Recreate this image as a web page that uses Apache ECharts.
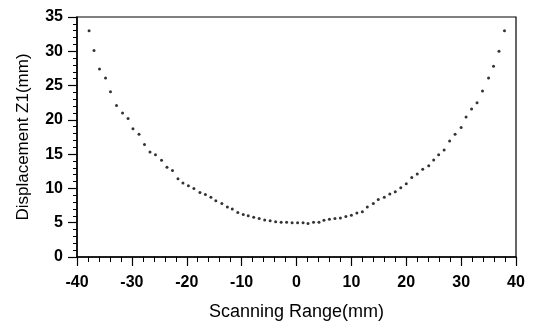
<!DOCTYPE html>
<html>
<head>
<meta charset="utf-8">
<script src="https://cdn.jsdelivr.net/npm/echarts@6/dist/echarts.min.js"></script>
<style>
  html, body { margin: 0; padding: 0; background: #fff; }
  #chart { width: 538px; height: 328px; }
</style>
</head>
<body>
<div id="chart"></div>
<script>
// scanning position (mm)
const scanX = [
  -37.8, -36.9, -35.9, -34.8, -33.9, -32.8, -31.7, -30.7, -29.8, -28.7,
  -27.7, -26.7, -25.7, -24.6, -23.6, -22.6, -21.6, -20.7, -19.7, -18.7,
  -17.6, -16.6, -15.6, -14.7, -13.6, -12.6, -11.7, -10.7, -9.7, -8.8,
  -7.8, -6.8, -5.8, -4.8, -3.8, -2.8, -1.8, -0.8, 0.2, 1.2,
  2.1, 3.1, 4.1, 5.0, 6.0, 7.0, 8.0, 9.0, 10.0, 11.0,
  12.0, 12.9, 14.0, 14.9, 16.0, 17.0, 18.0, 19.0, 20.0, 21.0,
  22.0, 23.0, 24.1, 25.0, 25.9, 26.9, 27.9, 28.9, 30.0, 30.9,
  31.9, 32.9, 33.9, 35.0, 35.9, 36.9, 37.9
];
// displacement Z1 (mm)
const dispZ1 = [
  33.0, 30.1, 27.4, 26.1, 24.1, 22.1, 21.0, 20.2, 18.7, 17.9,
  16.4, 15.3, 14.9, 14.1, 13.1, 12.6, 11.4, 10.8, 10.4, 10.0,
  9.4, 9.1, 8.7, 8.2, 7.8, 7.3, 7.0, 6.5, 6.2, 6.0,
  5.8, 5.6, 5.4, 5.3, 5.15, 5.05, 5.05, 5.0, 5.0, 5.0,
  4.9, 5.05, 5.05, 5.35, 5.5, 5.6, 5.7, 5.9, 6.1, 6.4,
  6.6, 7.3, 7.8, 8.4, 8.7, 9.2, 9.5, 10.1, 10.7, 11.6,
  12.1, 12.8, 13.3, 14.15, 14.9, 15.6, 16.9, 17.9, 18.9, 20.4,
  21.6, 22.5, 24.2, 26.1, 27.8, 30.0, 33.0
];

const points = scanX.map((x, i) => [x, dispZ1[i]]);

const font = 'Liberation Sans, Arial, sans-serif';

const option = {
  animation: false,
  backgroundColor: '#fff',
  grid: {
    left: 77,
    right: 22,
    top: 17,
    bottom: 71,
    show: true,
    borderColor: '#000',
    borderWidth: 1.2
  },
  xAxis: {
    type: 'value',
    min: -40,
    max: 40,
    interval: 10,
    name: 'Scanning Range(mm)',
    nameLocation: 'middle',
    nameGap: 46,
    nameTextStyle: { color: '#000', fontSize: 18, fontFamily: font },
    axisLine: { onZero: false, lineStyle: { color: '#000', width: 1.5 } },
    axisTick: { inside: false, length: 9, lineStyle: { color: '#000', width: 1.2 } },
    minorTick: { show: true, splitNumber: 5, length: 5, lineStyle: { color: '#000', width: 1 } },
    axisLabel: { color: '#000', fontSize: 16, fontWeight: 'bold', fontFamily: font, margin: 18 },
    splitLine: { show: false }
  },
  yAxis: {
    type: 'value',
    min: 0,
    max: 35,
    interval: 5,
    name: 'Displacement Z1(mm)',
    nameLocation: 'middle',
    nameGap: 45,
    nameTextStyle: { color: '#000', fontSize: 17, fontFamily: font },
    axisLine: { show: true, onZero: false, lineStyle: { color: '#000', width: 1.5 } },
    axisTick: { show: true, inside: false, length: 9, lineStyle: { color: '#000', width: 1.2 } },
    minorTick: { show: true, splitNumber: 5, length: 4, lineStyle: { color: '#000', width: 1 } },
    axisLabel: { color: '#000', fontSize: 16, fontWeight: 'bold', fontFamily: font, margin: 14 },
    splitLine: { show: false }
  },
  series: [
    {
      type: 'scatter',
      data: points,
      symbol: 'circle',
      symbolSize: 3,
      itemStyle: { color: '#000' }
    }
  ]
};

const chart = echarts.init(document.getElementById('chart'));
chart.setOption(option);
</script>
</body>
</html>
